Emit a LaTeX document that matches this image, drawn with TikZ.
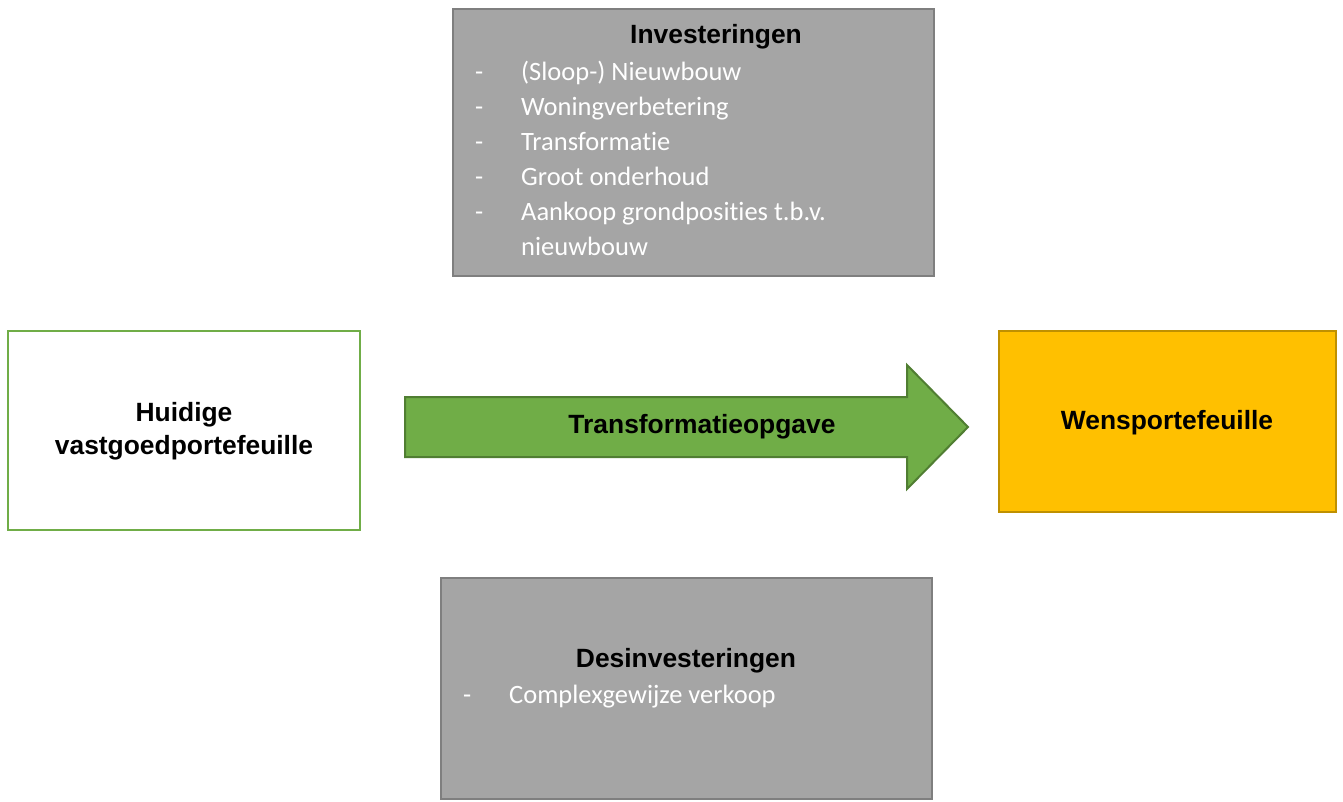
\documentclass[tikz,border=0pt]{standalone}
\usepackage{fontspec}
\setmainfont{Liberation Sans}
\newfontfamily\bodyfont[Ligatures=NoCommon]{Carlito}
\definecolor{boxgray}{HTML}{A5A5A5}
\definecolor{edgegray}{HTML}{7F7F7F}
\definecolor{leafgreen}{HTML}{70AD47}
\definecolor{darkgreen}{HTML}{507E32}
\definecolor{amber}{HTML}{FFC000}
\definecolor{darkamber}{HTML}{BF9000}
\tikzset{
  panel/.style={draw, line width=2.5pt, rectangle, anchor=north west, inner sep=0pt, outer sep=0pt},
  graypanel/.style={panel, draw=edgegray, fill=boxgray},
  headtext/.style={font=\fontsize{26.4}{34}\selectfont\bfseries, text=black, inner sep=0pt, anchor=base},
  itemtext/.style={font=\bodyfont\fontsize{26.5}{35}\selectfont, text=white, inner sep=0pt, anchor=base west},
}
\begin{document}
\begin{tikzpicture}[x=1pt, y=-1pt]
\useasboundingbox (0,0) rectangle (1343,801);

% investments box
\node[graypanel, minimum width=481pt, minimum height=267pt] (inv) at (453,9) {};
\node[headtext] (invtitle) at (716,43) {Investeringen};
\foreach \y/\t [count=\i] in {80/(Sloop-) Nieuwbouw, 115/Woningverbetering, 150/Transformatie, 185/Groot onderhoud, 220/Aankoop grondposities t.b.v.}{
  \node[itemtext] (invdash\i) at (475,\y) {-};
  \node[itemtext] (invitem\i) at (521,\y) {\t};
}
\node[itemtext] (invitem6) at (521,255) {nieuwbouw};

% current portfolio
\node[panel, draw=leafgreen, fill=white, minimum width=352pt, minimum height=199pt] (cur) at (8,331) {};
\node[headtext] (curtxt1) at (184,421) {Huidige};
\node[headtext] (curtxt2) at (184,454) {vastgoedportefeuille};

% transformation arrow
\draw[line width=2pt, draw=darkgreen, fill=leafgreen, line join=miter]
  (405,397) -- (907,397) -- (907,365) -- (968,427) -- (907,489) -- (907,457) -- (405,457) -- cycle;
\node[headtext] (arrtxt) at (702,433) {Transformatieopgave};

% target portfolio
\node[panel, draw=darkamber, fill=amber, minimum width=337pt, minimum height=181pt] (wish) at (999,331) {};
\node[headtext] (wishtxt) at (1167,429) {Wensportefeuille};

% divestments box
\node[graypanel, minimum width=491pt, minimum height=221pt] (div) at (441,578) {};
\node[headtext] (divtitle) at (686,667) {Desinvesteringen};
\node[itemtext] (divdash) at (463,703) {-};
\node[itemtext] (divitem) at (509,703) {Complexgewijze verkoop};
\end{tikzpicture}
\end{document}
